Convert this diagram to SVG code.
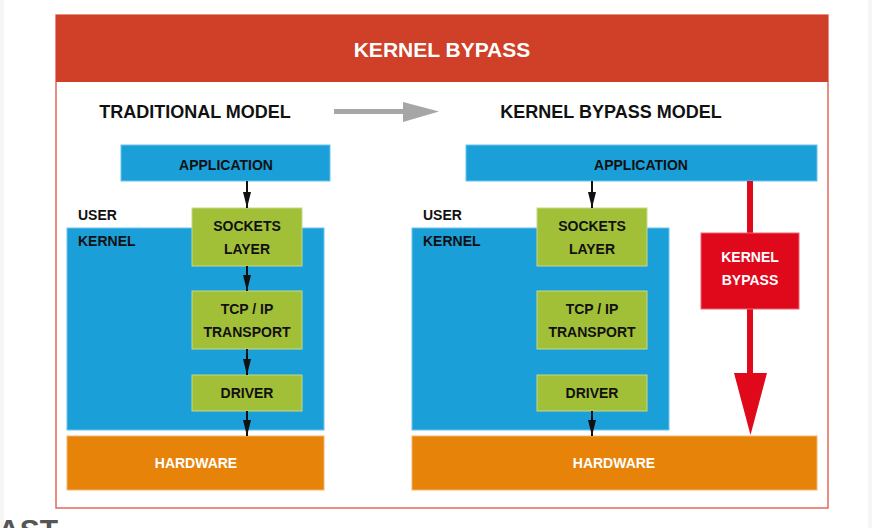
<svg xmlns="http://www.w3.org/2000/svg" width="872" height="528" viewBox="0 0 872 528">
<style>
  text { font-family: "Liberation Sans", Arial, sans-serif; font-weight: bold; }
  .lbl { font-size: 14px; fill: #111; text-anchor: middle; }
  .wlbl { font-size: 14px; fill: #fff; text-anchor: middle; }
  .side { font-size: 14px; fill: #111; }
  .head { font-size: 18px; fill: #111; text-anchor: middle; }
  .blue { fill: #1a9fd9; stroke: #6cc3ea; stroke-width: 1; }
  .green { fill: #a2bf38; stroke: #c5d986; stroke-width: 1; }
  .orange { fill: #e8830a; stroke: #f2b56a; stroke-width: 1; }
  .bypass { fill: #e0091c; stroke: #ee6672; stroke-width: 1; }
  .flow { stroke: #111; stroke-width: 2; fill: none; marker-end: url(#ah); }
</style>
<defs>
  <marker id="ah" viewBox="0 0 16 8" refX="16" refY="4" markerWidth="16" markerHeight="8" markerUnits="userSpaceOnUse" orient="auto">
    <path d="M0,0 L16,4 L0,8 Z" fill="#111"/>
  </marker>
</defs>
<rect x="0" y="0" width="872" height="528" fill="#ffffff"/>
<rect x="0" y="0" width="4" height="528" fill="#f6f6f6"/>
<rect x="868" y="0" width="4" height="528" fill="#f6f6f6"/>
<text x="-2" y="540" style="font-size:30px;fill:#555;">AST</text>

<g id="frame">
  <rect x="56" y="15" width="772" height="493" fill="#ffffff" stroke="#e46a5b" stroke-width="1.5"/>
  <rect x="56" y="15" width="772" height="67" fill="#d04029"/>
  <text x="442" y="57" style="font-size:21px;fill:#fff;text-anchor:middle;">KERNEL BYPASS</text>
</g>

<g id="headings">
  <text class="head" x="195" y="118">TRADITIONAL MODEL</text>
  <text class="head" x="611" y="118">KERNEL BYPASS MODEL</text>
</g>

<g id="left-kernel">
  <rect class="blue" x="67" y="228" width="257" height="202"/>
  <text class="side" x="78" y="220">USER</text>
  <text class="side" x="78" y="246">KERNEL</text>
</g>
<g id="left-app">
  <rect class="blue" x="121" y="145" width="209" height="36"/>
  <text class="lbl" x="226" y="170">APPLICATION</text>
</g>
<g id="left-sockets">
  <rect class="green" x="192" y="208" width="110" height="58"/>
  <text class="lbl" x="247" y="231">SOCKETS</text>
  <text class="lbl" x="247" y="254">LAYER</text>
</g>
<g id="left-tcp">
  <rect class="green" x="192" y="291" width="110" height="58"/>
  <text class="lbl" x="247" y="314">TCP / IP</text>
  <text class="lbl" x="247" y="337">TRANSPORT</text>
</g>
<g id="left-driver">
  <rect class="green" x="192" y="375" width="110" height="36"/>
  <text class="lbl" x="247" y="398">DRIVER</text>
</g>
<g id="left-hardware">
  <rect class="orange" x="67" y="436" width="257" height="54"/>
  <text class="wlbl" x="196" y="468">HARDWARE</text>
</g>

<g id="right-kernel">
  <rect class="blue" x="412" y="228" width="257" height="202"/>
  <text class="side" x="423" y="220">USER</text>
  <text class="side" x="423" y="246">KERNEL</text>
</g>
<g id="right-app">
  <rect class="blue" x="466" y="145" width="351" height="36"/>
  <text class="lbl" x="641" y="170">APPLICATION</text>
</g>
<g id="right-sockets">
  <rect class="green" x="537" y="208" width="110" height="58"/>
  <text class="lbl" x="592" y="231">SOCKETS</text>
  <text class="lbl" x="592" y="254">LAYER</text>
</g>
<g id="right-tcp">
  <rect class="green" x="537" y="291" width="110" height="58"/>
  <text class="lbl" x="592" y="314">TCP / IP</text>
  <text class="lbl" x="592" y="337">TRANSPORT</text>
</g>
<g id="right-driver">
  <rect class="green" x="537" y="375" width="110" height="36"/>
  <text class="lbl" x="592" y="398">DRIVER</text>
</g>
<g id="right-hardware">
  <rect class="orange" x="412" y="436" width="405" height="54"/>
  <text class="wlbl" x="614" y="468">HARDWARE</text>
</g>

<g id="connectors">
  <path d="M334,111.5 H404" stroke="#a6a6a6" stroke-width="5"/>
  <path d="M403,102 L439,111.5 L403,122 Z" fill="#a6a6a6"/>
  <path class="flow" d="M247,181 V208"/>
  <path class="flow" d="M247,266 V291"/>
  <path class="flow" d="M247,349 V375"/>
  <path class="flow" d="M247,411 V436"/>
  <path class="flow" d="M592,181 V208"/>
  <path class="flow" d="M592,411 V436"/>
  <path d="M750,181 V233 M750,309 V374" stroke="#e0091c" stroke-width="6"/>
  <path d="M734,373 L767,373 L750.5,435 Z" fill="#e0091c"/>
</g>

<g id="kernel-bypass">
  <rect class="bypass" x="701" y="233" width="98" height="76"/>
  <text class="wlbl" x="750" y="262">KERNEL</text>
  <text class="wlbl" x="750" y="285">BYPASS</text>
</g>
</svg>
